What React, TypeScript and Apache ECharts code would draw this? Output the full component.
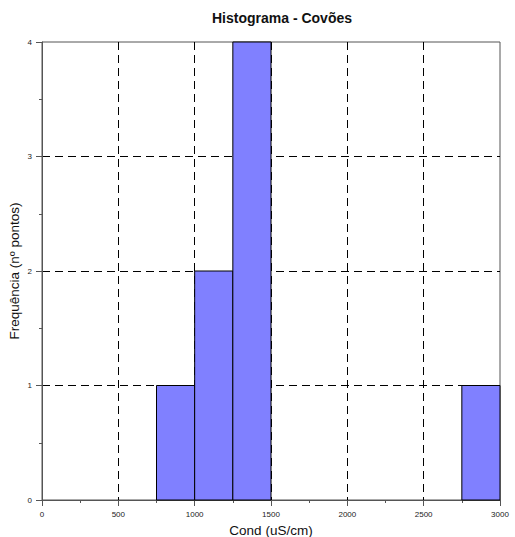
import React, { useEffect, useRef } from "react";
import * as echarts from "echarts";

const binStarts = [750, 1000, 1250, 2750];
const binEnds = [1000, 1250, 1500, 3000];
const counts = [1, 2, 4, 1];
const title = "Histograma - Covões";
const xName = "Cond (uS/cm)";
const yName = "Frequência (nº pontos)";

const FONT = "Liberation Sans, Arial, sans-serif";

export default function App() {
  const ref = useRef<HTMLDivElement>(null);
  useEffect(() => {
    const chart = echarts.init(ref.current!, null, { renderer: "svg" });
    const data = binStarts.map((s, i) => [s, binEnds[i], counts[i]]);
    const axisCommon = {
      axisLine: { show: true, lineStyle: { color: "#555" } },
      axisTick: { show: true, length: 6, lineStyle: { color: "#555" } },
      minorTick: { show: true, splitNumber: 2, length: 3, lineStyle: { color: "#555" } },
      axisLabel: { fontFamily: FONT, fontSize: 8, color: "#222", margin: 10, formatter: (v: number) => String(v) },
      splitLine: { show: true, showMinLine: false, showMaxLine: false, lineStyle: { color: "#000", type: [8, 5], width: 1 } },
    };
    chart.setOption({
      animation: false,
      backgroundColor: "#fff",
      title: {
        text: title,
        left: 277,
        top: 6,
        textAlign: "center",
        textStyle: { fontFamily: FONT, fontSize: 14, fontWeight: "bold", color: "#111" },
      },
      grid: { left: 42, right: 15, top: 42, bottom: 37, show: true, borderColor: "#555", borderWidth: 1, outerBoundsMode: "none", containLabel: false },
      xAxis: {
        type: "value",
        min: 0,
        max: 3000,
        interval: 500,
        name: xName,
        nameLocation: "middle",
        nameGap: 23,
        nameMoveOverlap: false,
        nameTextStyle: { fontFamily: FONT, fontSize: 13.5, color: "#111" },
        ...axisCommon,
      },
      yAxis: {
        type: "value",
        min: 0,
        max: 4,
        interval: 1,
        name: yName,
        nameLocation: "middle",
        nameGap: 21,
        nameMoveOverlap: false,
        nameTextStyle: { fontFamily: FONT, fontSize: 13.5, color: "#111" },
        ...axisCommon,
      },
      series: [
        {
          type: "custom",
          data,
          renderItem: (params: any, api: any) => {
            const p0 = api.coord([api.value(0), 0]);
            const p1 = api.coord([api.value(1), api.value(2)]);
            return {
              type: "rect",
              shape: { x: p0[0], y: p1[1], width: p1[0] - p0[0], height: p0[1] - p1[1] },
              style: { fill: "#8080ff", stroke: "#000", lineWidth: 1 },
            };
          },
          encode: { x: [0, 1], y: 2 },
        },
      ],
    });
    return () => chart.dispose();
  }, []);
  return <div ref={ref} style={{ position: "fixed", left: 0, top: 0, width: 515, height: 537 }} />;
}
